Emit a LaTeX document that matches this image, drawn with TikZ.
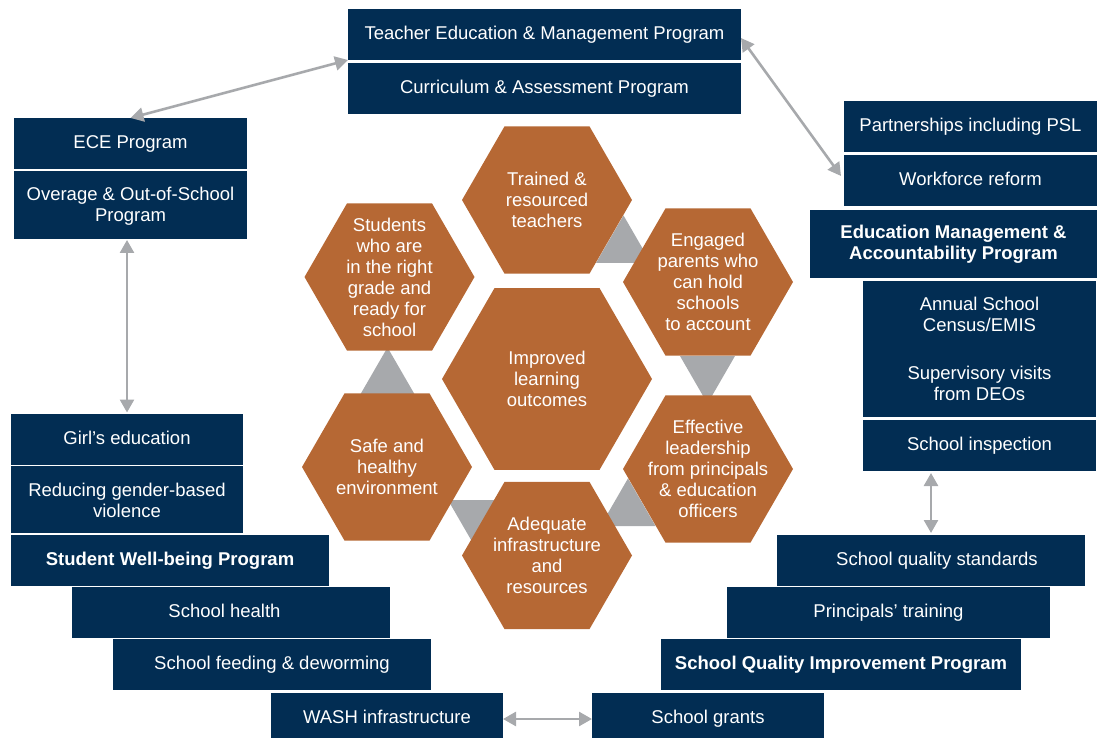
\documentclass[tikz,border=0pt]{standalone}
\usepackage{fontspec}
\setmainfont{Liberation Sans}
\usetikzlibrary{shapes.geometric,arrows.meta}
\definecolor{navy}{HTML}{022D53}
\definecolor{rust}{HTML}{B66834}
\definecolor{steel}{HTML}{A7A9AC}
\begin{document}
\begin{tikzpicture}[x=1pt,y=-1pt,
  every node/.style={font=\fontsize{18.5pt}{21pt}\selectfont, text=white,
    align=center, inner sep=0pt, outer sep=0pt},
  prog/.style n args={2}{fill=navy, minimum width=#1, minimum height=#2},
  oneline/.style={text height=13.3pt, text depth=3.7pt},
  hex/.style={regular polygon, regular polygon sides=6, fill=rust, minimum size=170pt},
  bighex/.style={hex, minimum size=210pt},
  link/.style={draw=steel, line width=2.6pt,
    {Triangle[length=13pt,width=14pt]}-{Triangle[length=13pt,width=14pt]}}]

\useasboundingbox (0,0) rectangle (1101,738);

% ---- gray arrowheads linking the outcome hexagons (behind the hexagons)
\fill[steel] (596,263) -- (651,263) -- (623.5,215.4) -- cycle;
\fill[steel] (680,356) -- (735,356) -- (707.5,403.6) -- cycle;
\fill[steel] (600.5,526) -- (655.5,526) -- (628,478.4) -- cycle;
\fill[steel] (448,500) -- (503,500) -- (475.5,547.6) -- cycle;
\fill[steel] (360,395) -- (415,395) -- (387.5,347.4) -- cycle;

% ---- outcome hexagons
\node[hex] (trained) at (547,200) {};
\node[hex] (parents) at (708,282) {};
\node[hex] (leaders) at (708,469) {};
\node[hex] (infra) at (547,555.5) {};
\node[hex] (safe) at (387,467) {};
\node[hex] (ready) at (389.5,277) {};
\node[bighex] (core) at (547,379) {};

\node (ttrained) at (trained) {Trained \&\\resourced\\teachers};
\node (tparents) at (parents) {Engaged\\parents who\\can hold\\schools\\to account};
\node (tleaders) at (leaders) {Effective\\leadership\\from principals\\\& education\\officers};
\node (tinfra) at (infra) {Adequate\\infrastructure\\and\\resources};
\node (tsafe) at (safe) {Safe and\\healthy\\environment};
\node (tready) at (ready) {Students\\who are\\in the right\\grade and\\ready for\\school};
\node (tcore) at (core) {Improved\\learning\\outcomes};

% ---- program boxes, top
\node[prog={393pt}{51pt}, oneline] (teach) at (544.5,34.5) {Teacher Education \& Management Program};
\node[prog={393pt}{51pt}, oneline] (curr) at (544.5,88.5) {Curriculum \& Assessment Program};

% ---- program boxes, left
\node[prog={233pt}{51pt}, oneline] (ece) at (130.5,143.5) {ECE Program};
\node[prog={233pt}{68pt}] (over) at (130.5,205) {};
\node (tover) at ([yshift=-1pt]over.center) {Overage \& Out-of-School\\Program};

% ---- program boxes, right
\node[prog={253pt}{51pt}, oneline] (part) at (970.5,126.5) {Partnerships including PSL};
\node[prog={253pt}{51pt}, oneline] (work) at (970.5,180.5) {Workforce reform};
\node[prog={287pt}{68pt}] (emap) at (953.5,244) {\bfseries Education Management \&\\\bfseries Accountability Program};
\node[prog={233pt}{136pt}] (annual) at (979.5,349) {Annual School\\Census/EMIS\\[27pt]Supervisory visits\\from DEOs};
\node[prog={233pt}{51pt}, oneline] (insp) at (979.5,445.5) {School inspection};

% ---- student well-being stack
\node[prog={232pt}{51pt}, oneline] (girl) at (127,439.5) {Girl’s education};
\node[prog={232pt}{67pt}] (gbv) at (127,499.5) {};
\node (tgbv) at ([yshift=-1pt]gbv.center) {Reducing gender-based\\violence};
\node[prog={318pt}{51pt}, oneline] (swp) at (170,560.5) {\bfseries Student Well-being Program};
\node[prog={318pt}{51pt}] (health) at (231,612.5) {};
\node[oneline] (thealth) at ([xshift=-6.5pt]health.center) {School health};
\node[prog={318pt}{51pt}, oneline] (feed) at (272,664.5) {School feeding \& deworming};
\node[prog={232pt}{51pt}, oneline] (wash) at (387,718.5) {WASH infrastructure};

% ---- school quality stack
\node[prog={308pt}{51pt}] (sqs) at (931,560.5) {};
\node[oneline] (tsqs) at ([xshift=6pt]sqs.center) {School quality standards};
\node[prog={323pt}{51pt}, oneline] (ptrain) at (888.5,612.5) {Principals’ training};
\node[prog={360pt}{51pt}, oneline] (sqip) at (841,664.5) {\bfseries School Quality Improvement Program};
\node[prog={232pt}{51pt}, oneline] (grants) at (708,718.5) {School grants};

% ---- two-way links between programs
\draw[link] (ece.north) -- (teach.south west);
\draw[link] ([yshift=-3.5pt]teach.east) -- ([shift={(-3pt,4.5pt)}]work.west);
\draw[link, shorten <=1pt, shorten >=1.5pt] (over.south -| girl.north) -- (girl.north);
\draw[link, shorten <=2pt, shorten >=2pt] (insp.south -| sqs.north) -- (sqs.north);
\draw[link] ([yshift=-0.5pt]wash.east) -- ([yshift=-0.5pt]grants.west);

\end{tikzpicture}
\end{document}
